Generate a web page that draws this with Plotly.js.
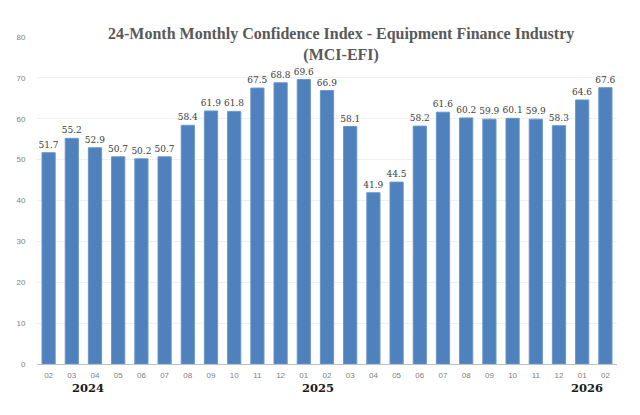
<!DOCTYPE html>
<html>
<head>
<meta charset="utf-8">
<script src="https://cdn.plot.ly/plotly-3.0.1.min.js"></script>
<style>html,body{margin:0;padding:0;background:#fff;}#chart{width:640px;height:415px;}</style>
</head>
<body>
<div id="chart"></div>
<script>
const monthLabels = ["02","03","04","05","06","07","08","09","10","11","12","01","02","03","04","05","06","07","08","09","10","11","12","01","02"];
const indexValues = [51.7,55.2,52.9,50.7,50.2,50.7,58.4,61.9,61.8,67.5,68.8,69.6,66.9,58.1,41.9,44.5,58.2,61.6,60.2,59.9,60.1,59.9,58.3,64.6,67.6];
const yearLabels = ["2024","2025","2026"];
const yearPositions = [1.7,11.6,23.2];
const yTicks = [0,10,20,30,40,50,60,70,80];

const xIdx = monthLabels.map((_, i) => i);

const labelFont = {family: 'DejaVu Serif, serif', size: 9, color: '#404040'};

const trace = {
  type: 'bar',
  x: xIdx,
  y: indexValues,
  marker: {color: '#4f81bd', line: {color: '#6b97cc', width: 1}},
  text: indexValues.map(v => v.toFixed(1)),
  textposition: 'outside',
  constraintext: 'none',
  textfont: labelFont,
  outsidetextfont: labelFont,
  cliponaxis: false,
  hoverinfo: 'none'
};

const annotations = yearLabels.map((t, i) => ({
  text: '<b>' + t + '</b>', x: yearPositions[i], xref: 'x', y: -0.073, yref: 'paper',
  yanchor: 'middle', xanchor: 'center', showarrow: false,
  font: {family: 'DejaVu Serif, serif', size: 11.5, color: '#1a1a1a'}
}));

const layout = {
  width: 640, height: 415,
  margin: {l: 37, r: 23, t: 37, b: 51},
  paper_bgcolor: '#fff', plot_bgcolor: '#fff',
  bargap: 0.43,
  showlegend: false,
  title: {
    text: '<b>24-Month Monthly Confidence Index - Equipment Finance Industry<br>(MCI-EFI)</b>',
    x: 0.533, xref: 'container', xanchor: 'center',
    y: 0.905, yref: 'container', yanchor: 'middle',
    font: {family: 'Liberation Serif, serif', size: 16, color: '#595959'}
  },
  xaxis: {
    range: [-0.5, 24.5],
    tickvals: xIdx, ticktext: monthLabels,
    tickfont: {family: 'Liberation Sans, Arial, sans-serif', size: 8, color: '#808080'},
    ticks: 'outside', ticklen: 3, tickcolor: 'rgba(0,0,0,0)',
    showline: true, linecolor: '#bfbfbf', linewidth: 1,
    showgrid: false, zeroline: false, fixedrange: true
  },
  yaxis: {
    range: [0, 80],
    tickvals: yTicks,
    tickfont: {family: 'Liberation Sans, Arial, sans-serif', size: 8, color: '#808080'},
    ticks: 'outside', ticklen: 9, tickcolor: 'rgba(0,0,0,0)',
    showgrid: true, gridcolor: '#f0f0f0', gridwidth: 1,
    zeroline: false, showline: false, fixedrange: true
  },
  annotations: annotations
};

Plotly.newPlot('chart', [trace], layout, {displayModeBar: false, staticPlot: true});
</script>
</body>
</html>
